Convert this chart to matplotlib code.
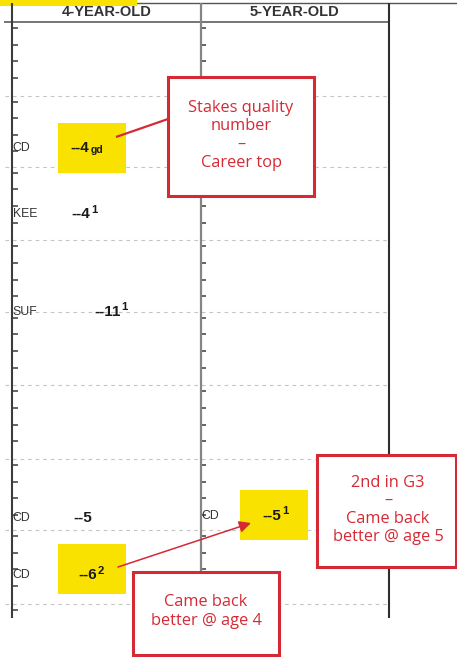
import numpy as np
import pandas as pd
import matplotlib
matplotlib.use("Agg")
import matplotlib.pyplot as plt
from matplotlib.patches import Rectangle, FancyArrowPatch

# ---------------- data ----------------
ages = ["4-YEAR-OLD", "5-YEAR-OLD"]
season_start = "2021-03-01"
season_end = "2021-11-01"
tick_days_in_month = [3.5, 10.5, 17.5, 24.5]   # weekly tick marks (day of month)

race_age = [0, 0, 0, 0, 0, 1]
race_track = ["CD", "KEE", "SUF", "CD", "CD", "CD"]
race_date = ["04-23", "05-21", "07-01", "09-26", "10-20", "09-25"]
race_fig = ["4", "4", "11", "5", "6", "5"]
race_mark = ["gd", "1", "1", "", "2", "1"]
race_mark_sub = [True, False, False, False, False, False]
highlighted = [0, 4, 5]

notes = ["Stakes quality\nnumber\n\u2013\nCareer top",
         "2nd in G3\n\u2013\nCame back\nbetter @ age 5",
         "Came back\nbetter @ age 4"]

# ---------------- layout (pixels) ----------------
W, H, DPI = 457, 657, 100
X0, COLW = 12.0, 188.5       # left axis x, column width in px
Y0, PXD = 22.0, 2.375        # y of Mar 1, px per day

RED = "#d42a35"
YEL = "#f9e100"
DARK = "#333333"

def px(x):   # pixel x -> column units
    return (x - X0) / COLW

def py(y):   # pixel y -> day units
    return (y - Y0) / PXD

base = pd.Timestamp(season_start)
def day_of(md):
    return (pd.Timestamp("2021-" + md) - base).days

fig = plt.figure(figsize=(W / DPI, H / DPI), dpi=DPI)
ax = fig.add_axes([0, 0, 1, 1])
ax.set_xlim(px(0), px(W))
ax.set_ylim(py(H), py(0))
ax.axis("off")

# month boundaries and weekly ticks
months = pd.date_range(season_start, season_end, freq="MS")
month_days = np.array([(m - base).days for m in months])
ax.hlines(month_days[1:], px(5), px(390), colors="#c4c4c4", lw=0.8,
          linestyles=(0, (3.2, 3.6)), zorder=1)

bottom_day = py(618)
ticks = []
for m in months:
    for t in tick_days_in_month:
        d = (m - base).days + t - 1
        if d <= bottom_day:
            ticks.append(d)
ticks = np.array(ticks)
for a in range(len(ages)):
    ax.hlines(ticks, a, a + px(X0 + 5.5), colors="#3a3a3a", lw=1.1, zorder=3)

# frame lines
ax.hlines(py(3), px(0), px(W), colors="#555555", lw=1.0, zorder=2)
ax.add_patch(Rectangle((px(0), py(0)), px(137) - px(0), py(6) - py(0),
                       facecolor=YEL, edgecolor="none", zorder=3))
ax.hlines(0, px(4), px(389), colors="#6a6a6a", lw=1.3, zorder=3)
ax.vlines(0, py(3), py(618), colors="#3c3c3c", lw=1.5, zorder=3)
ax.vlines(1, py(3), py(618), colors="#858585", lw=1.6, zorder=3)
ax.vlines(2, py(3), py(618), colors="#2e2e2e", lw=1.5, zorder=3)

# headers
for a, lab in enumerate(ages):
    ax.text(a + 0.5, py(12.5), lab, ha="center", va="center",
            fontsize=10.5, fontweight="bold", color=DARK,
            family="Liberation Sans", zorder=4)

# highlight boxes
hl_dx = [0.423, 0.423, 0.392]
hl_dy = [0.0, -2.7, -0.6]
bw, bh = 68 / COLW, 50 / PXD
for i, dx, dy in zip(highlighted, hl_dx, hl_dy):
    cx = race_age[i] + dx
    cy = day_of(race_date[i]) + dy
    ax.add_patch(Rectangle((cx - bw / 2, cy - bh / 2), bw, bh,
                           facecolor=YEL, edgecolor="none", zorder=2))

# race labels and figures
fig_dx = [0.310, 0.315, 0.437, 0.326, 0.352, 0.328]
for i in range(len(race_track)):
    a = race_age[i]
    d = day_of(race_date[i])
    ax.text(a + 0.004, d, race_track[i], ha="left", va="center",
            fontsize=8.8, color=DARK, family="Liberation Sans", zorder=5)
    t = ax.text(a + fig_dx[i], d, "--" + race_fig[i], ha="left", va="center",
                fontsize=11, fontweight="bold", color="#1a1a1a",
                family="Liberation Sans", zorder=5)
    if race_mark[i]:
        if race_mark_sub[i]:
            ax.annotate(race_mark[i], xy=(1, 0), xycoords=t,
                        xytext=(0.8, -0.3), textcoords="offset points",
                        ha="left", va="bottom", fontsize=7.5,
                        fontweight="bold", color="#1a1a1a",
                        family="Liberation Sans", zorder=5)
        else:
            ax.annotate(race_mark[i], xy=(1, 1), xycoords=t,
                        xytext=(0.6, 1.8), textcoords="offset points",
                        ha="left", va="top", fontsize=8.2,
                        fontweight="bold", color="#1a1a1a",
                        family="Liberation Sans", zorder=5)

# connector lines
ax.plot([px(116), px(168)], [py(137), py(119)], color=RED, lw=1.6,
        solid_capstyle="butt", zorder=6)
ax.add_patch(FancyArrowPatch((px(118), py(567)), (px(251), py(523)),
                             arrowstyle="-|>,head_length=7,head_width=3.5",
                             mutation_scale=1, color=RED, lw=1.1,
                             shrinkA=0, shrinkB=0, zorder=6))

# note boxes
note_boxes = [(168, 77, 314, 196), (317, 455, 456, 567), (133, 572, 279, 655)]
note_centers = [(241, 135.5), (388, 510), (206, 611.5)]
for (x1, y1, x2, y2), (cx, cy), txt in zip(note_boxes, note_centers, notes):
    ax.add_patch(Rectangle((px(x1), py(y2)), px(x2) - px(x1), py(y1) - py(y2),
                           facecolor="white", edgecolor=RED, lw=2.2,
                           zorder=7))
    ax.text(px(cx), py(cy), txt, ha="center", va="center", fontsize=11.8,
            color=RED, family="Open Sans", linespacing=1.18, zorder=8)

fig.savefig("out.png", dpi=DPI)
